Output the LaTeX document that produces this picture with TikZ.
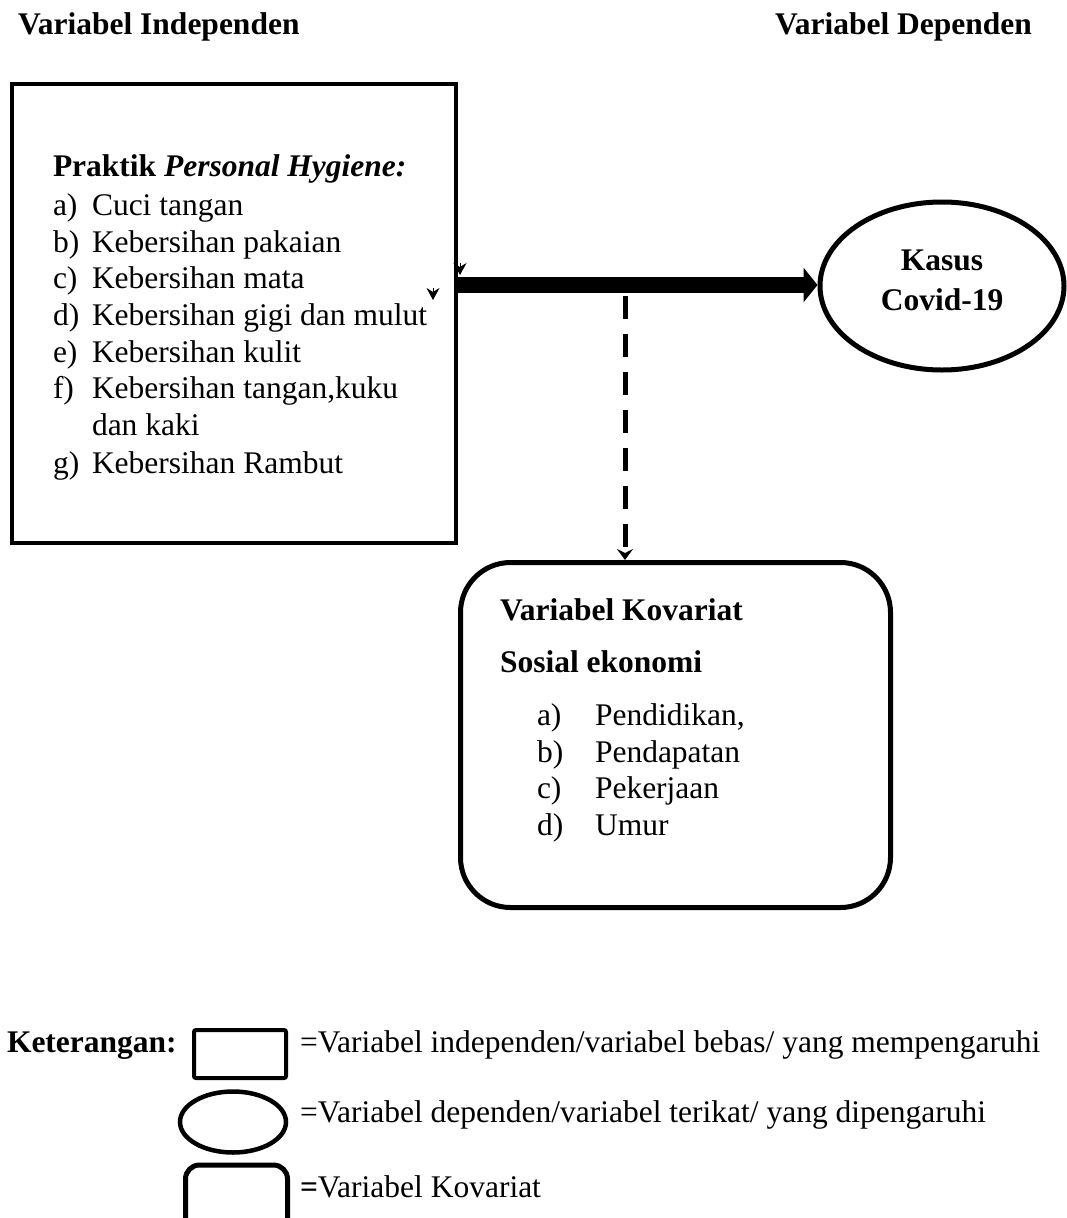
\documentclass[tikz,border=0pt]{standalone}
\usepackage{fontspec}
\setmainfont{Liberation Serif}
\usetikzlibrary{arrows.meta,shapes.geometric}
\begin{document}
\begin{tikzpicture}[x=1pt,y=-1pt,
  txt/.style={inner sep=0pt,outer sep=0pt,anchor=base west,font=\fontsize{31.5}{36}\selectfont},
  btxt/.style={txt,font=\fontsize{31.5}{36}\selectfont\bfseries},
  sq/.style={draw,line width=4pt,rectangle,inner sep=0pt},
  ov/.style={draw,line width=5pt,ellipse,inner sep=0pt},
  rr/.style={draw,line width=5pt,rectangle,rounded corners=50pt,inner sep=0pt},
  lab/.style={txt,anchor=base west},
  stray/.style={line width=1pt,-{Stealth[length=12pt,width=13pt,inset=4pt]}}
]
\useasboundingbox (0,0) rectangle (1067,1218);
\clip (0,0) rectangle (1067,1218);
% headers
\node[btxt] (hi) at (18,34) {Variabel Independen};
\node[btxt] (hd) at (775,34) {Variabel Dependen};
% independent box
\node[sq,minimum width=444pt,minimum height=459pt] (indep) at (234,313.5) {};
\node[txt] (t0) at (53,176) {\textbf{Praktik \textit{Personal Hygiene:}}};
\node[txt] (ta) at (53,215) {a)};
\node[txt] (tb) at (53,252) {b)};
\node[txt] (tc) at (53,288) {c)};
\node[txt] (td) at (53,325) {d)};
\node[txt] (te) at (53,362) {e)};
\node[txt] (tf) at (53,398) {f)};
\node[txt] (tg) at (53,473) {g)};
\node[txt] (ua) at (92,215) {Cuci tangan};
\node[txt] (ub) at (92,252) {Kebersihan pakaian};
\node[txt] (uc) at (92,288) {Kebersihan mata};
\node[txt] (ud) at (92,325) {Kebersihan gigi dan mulut};
\node[txt] (ue) at (92,362) {Kebersihan kulit};
\node[txt] (uf) at (92,398) {Kebersihan tangan,kuku};
\node[txt] (uf2) at (92,435) {dan kaki};
\node[txt] (ug) at (92,473) {Kebersihan Rambut};
% dependent ellipse
\node[ov,minimum width=244pt,minimum height=168pt] (dep) at (942,286) {};
\node[btxt,anchor=base] (k1) at (942,270) {Kasus};
\node[btxt,anchor=base] (k2) at (942,310) {Covid-19};
% covariate box
\node[rr,minimum width=430pt,minimum height=345pt] (kov) at (675.5,735) {};
\node[btxt] (v1) at (500,620) {Variabel Kovariat};
\node[btxt] (v2) at (500,672) {Sosial ekonomi};
\node[txt] (va) at (537,725) {a)};
\node[txt] (vb) at (537,762) {b)};
\node[txt] (vc) at (537,798) {c)};
\node[txt] (vd) at (537,835) {d)};
\node[txt] (wa) at (595,725) {Pendidikan,};
\node[txt] (wb) at (595,762) {Pendapatan};
\node[txt] (wc) at (595,798) {Pekerjaan};
\node[txt] (wd) at (595,835) {Umur};
% main arrow
\coordinate (astart) at (456,285);
\draw[line width=16pt,-{Triangle[length=14pt,width=34pt]}] (astart) -- (astart -| dep.west);
% dashed arrow
\coordinate (dstart) at (625,296);
\draw[line width=5pt,dash pattern=on 23pt off 15pt,-{Stealth[length=11pt,width=16pt,inset=4pt]}] (dstart) -- (dstart |- kov.north);
% stray small tips
\coordinate (s1a) at (460,263);
\coordinate (s1b) at (460,275);
\draw[stray] (s1a) -- (s1b);
\coordinate (s2a) at (433,288);
\coordinate (s2b) at (433,300);
\draw[stray] (s2a) -- (s2b);
% legend
\node[btxt] (ket) at (7,1052) {Keterangan:};
\node[sq,rounded corners=2pt,minimum width=92pt,minimum height=48pt] (l1) at (240,1054) {};
\node[ov,line width=4.5pt,minimum width=106pt,minimum height=61pt] (l2) at (233,1122) {};
\node[rr,rounded corners=14pt,minimum width=102pt,minimum height=80pt] (l3) at (236.5,1205) {};
\node[lab] (e1) at (300,1052) {=Variabel independen/variabel bebas/ yang mempengaruhi};
\node[lab] (e2) at (300,1122) {=Variabel dependen/variabel terikat/ yang dipengaruhi};
\node[lab] (e3) at (300,1197) {\textbf{=}Variabel Kovariat};
\end{tikzpicture}
\end{document}
